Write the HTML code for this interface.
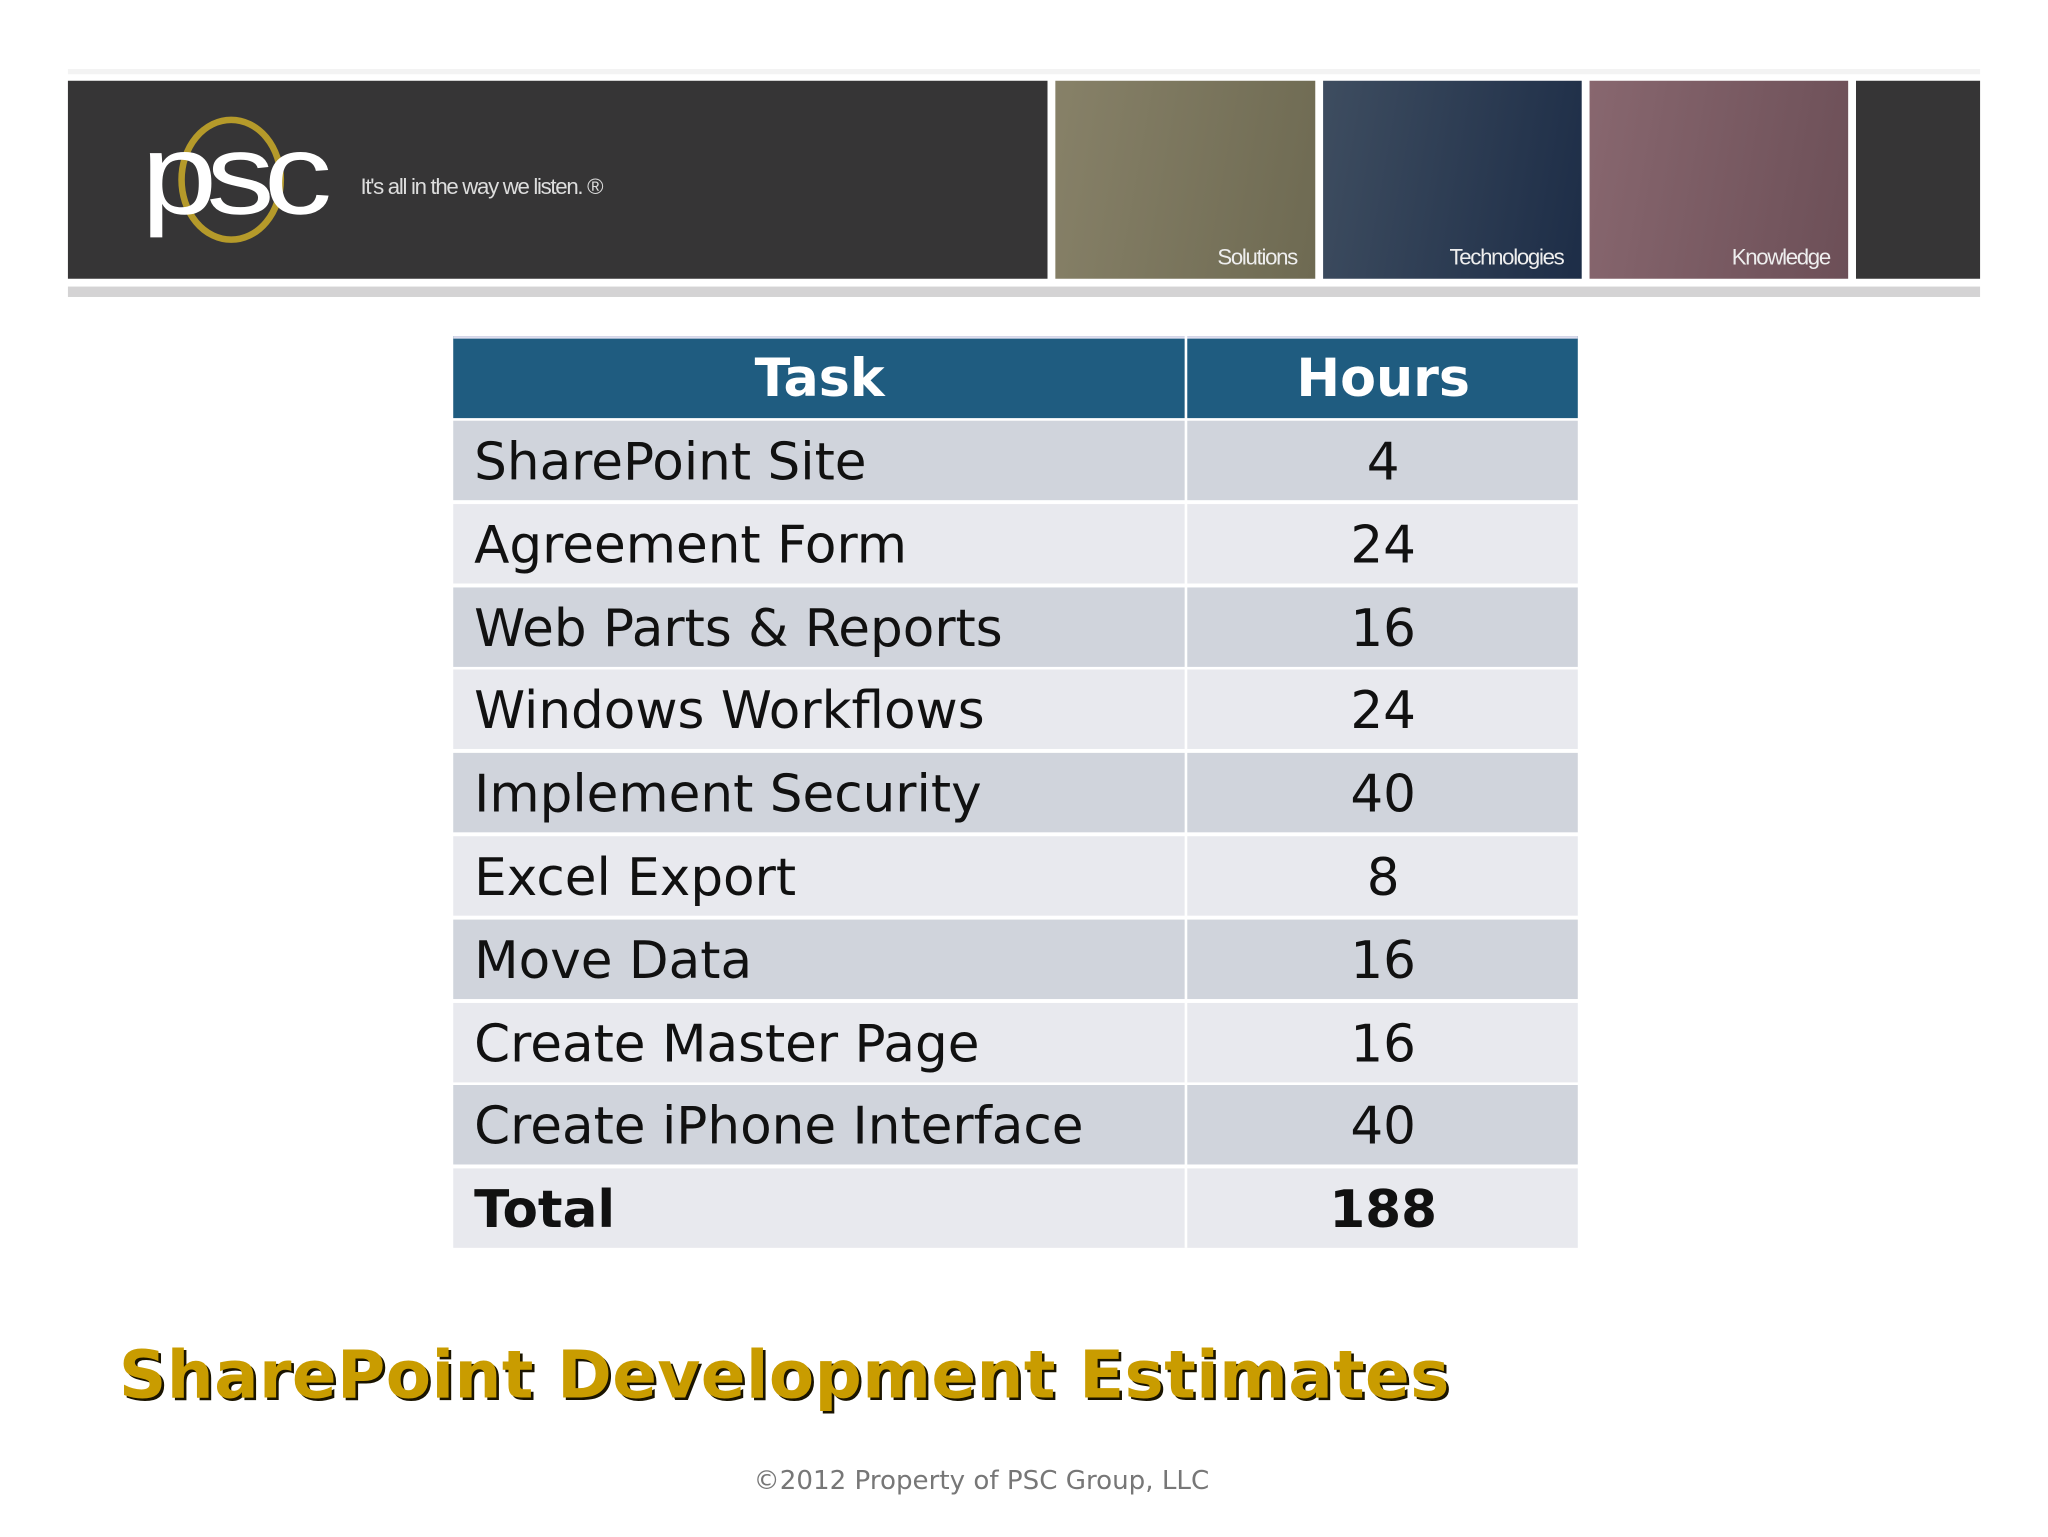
<!DOCTYPE html>
<html><head><meta charset="utf-8">
<style>
html,body{margin:0;padding:0;background:#fff;}
body{width:2048px;height:1537px;overflow:hidden;position:relative;}
#stage{position:absolute;left:0;top:0;width:1568px;height:1180px;transform-origin:0 0;transform:scale(1.30612,1.30254);font-family:"DejaVu Sans","Liberation Sans",sans-serif;}
.abs{position:absolute;}
.tile{position:absolute;top:62px;height:152px;width:199px;}
.tile span{position:absolute;right:14px;bottom:6px;color:#eee;font-size:17px;letter-spacing:-1px;font-family:"Liberation Sans",sans-serif;}
.cell{position:absolute;font-size:39.5px;color:#111;line-height:61px;height:61px;}
</style></head><body>
<div id="stage">
  <div class="abs" style="left:52px;top:53px;width:1464px;height:4px;background:#f3f3f3"></div>
  <div class="abs" style="left:52px;top:62px;width:750px;height:152px;background:#363536"></div>
  <div class="abs" style="left:108px;top:88px;width:150px;height:100px">
    <svg width="150" height="100" viewBox="0 0 150 100">
      <ellipse cx="69" cy="50" rx="38" ry="46" fill="none" stroke="#b59a2a" stroke-width="5"/>
      <text x="0" y="76" font-family="Liberation Sans, sans-serif" font-size="88" fill="#fff" letter-spacing="-7" textLength="138" lengthAdjust="spacingAndGlyphs">psc</text>
    </svg>
  </div>
  <div class="abs" style="left:276px;top:134px;color:#ddd;font-size:17px;letter-spacing:-1px;font-family:'Liberation Sans',sans-serif">It's all in the way we listen. ®</div>
  <div class="tile" style="left:808px;background:linear-gradient(100deg,#878168,#6e6a52)"><span>Solutions</span></div>
  <div class="tile" style="left:1013px;width:198px;background:linear-gradient(100deg,#3e4d60,#1d2d47)"><span>Technologies</span></div>
  <div class="tile" style="left:1217px;width:198px;background:linear-gradient(100deg,#88676f,#6c4f57)"><span>Knowledge</span></div>
  <div class="tile" style="left:1421px;width:95px;background:#363536"></div>
  <div class="abs" style="left:52px;top:220px;width:1464px;height:8px;background:#d4d3d4"></div>

  <div id="table">
    <div class="abs" style="left:347px;top:258px;width:861px;height:61px;background:#1f5c80;border-top:2px solid #dde"></div>
    <div class="abs" style="left:347px;top:261px;width:561px;text-align:center;color:#fff;font-weight:bold;font-size:40px;line-height:60px">Task</div>
    <div class="abs" style="left:910px;top:261px;width:298px;text-align:center;color:#fff;font-weight:bold;font-size:40px;line-height:60px">Hours</div>
  </div>
  <div class="abs" style="left:907px;top:258px;width:2px;height:700px;background:#fff;z-index:5"></div>

  <div class="abs" style="left:91px;top:1026px;font-size:50.5px;font-weight:bold;color:#c99c00;text-shadow:2px 2px 0 #1a1400;white-space:nowrap;letter-spacing:0.3px">SharePoint Development Estimates</div>
  <div class="abs" style="left:577px;top:1124px;font-size:20px;color:#777;white-space:nowrap">©2012 Property of PSC Group, LLC</div>
</div>
<script>
const tasks = ["SharePoint Site","Agreement Form","Web Parts & Reports","Windows Workflows","Implement Security","Excel Export","Move Data","Create Master Page","Create iPhone Interface","Total"];
const hours = ["4","24","16","24","40","8","16","16","40","188"];
const tbl = document.getElementById('table');
const rowTop = 323, rowH = 63.8;
tasks.forEach((t,i)=>{
  const y = rowTop + i*rowH;
  const bg = document.createElement('div');
  bg.className='abs';
  
  
  bg.style.cssText = `left:347px;top:${y}px;width:861px;height:61px;background:${i%2===0?'#d0d4dc':'#e8e9ee'}`;
  tbl.appendChild(bg);
  const bold = i===tasks.length-1;
  const c1 = document.createElement('div');
  c1.className='cell';
  
  
  c1.style.cssText = `left:363px;top:${y+2}px;white-space:nowrap;${bold?'font-weight:bold;':''}`;
  c1.textContent = t;
  tbl.appendChild(c1);
  const c2 = document.createElement('div');
  c2.className='cell';
  
  
  c2.style.cssText = `left:910px;width:298px;text-align:center;top:${y+2}px;${bold?'font-weight:bold;':''}`;
  c2.textContent = hours[i];
  tbl.appendChild(c2);
});
</script>
</body></html>
